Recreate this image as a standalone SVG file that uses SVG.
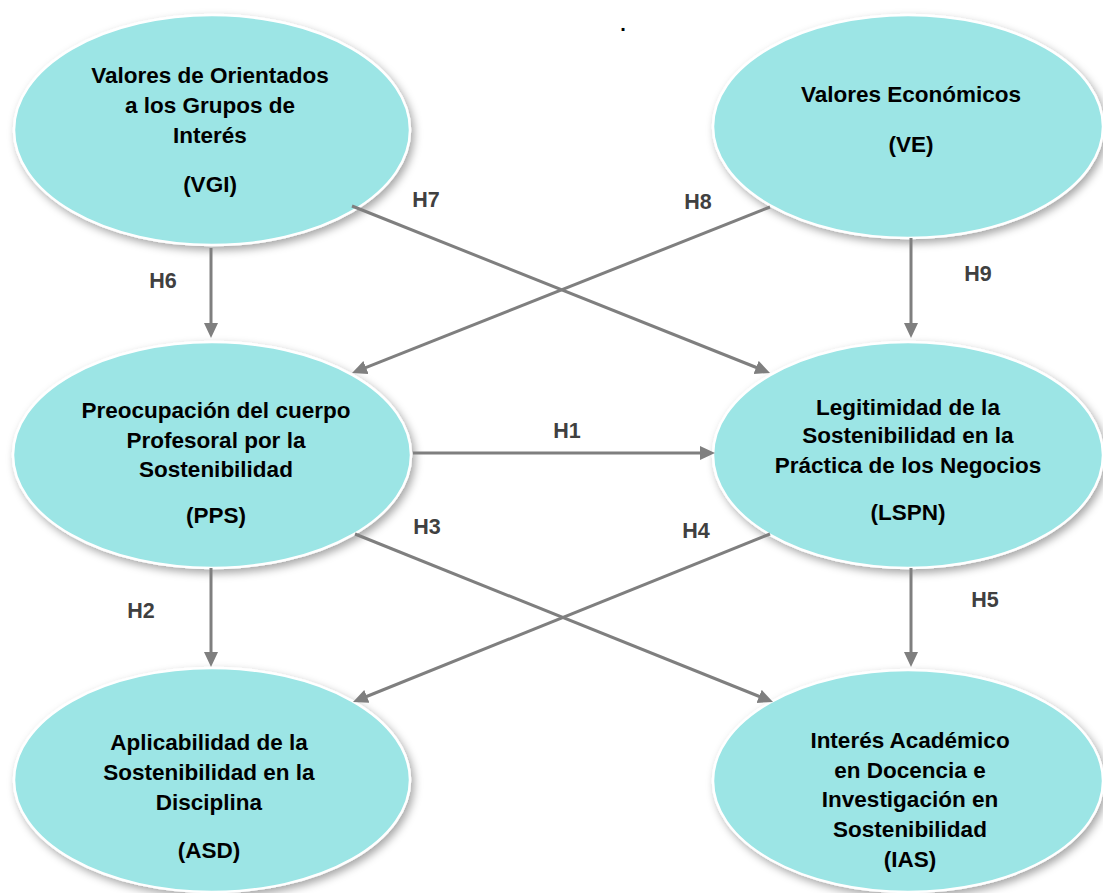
<svg xmlns="http://www.w3.org/2000/svg" width="1103" height="893" viewBox="0 0 1103 893">
  <style>
    .node ellipse { fill: #9ce5e5; stroke: #ffffff; stroke-width: 2.5; filter: url(#shadow); }
    .node text { font-family: "Liberation Sans", Arial, sans-serif; font-weight: bold; font-size: 22.5px; fill: #000000; text-anchor: middle; }
    .conn line { stroke: #7f7f7f; stroke-width: 3; marker-end: url(#arrow); }
    .lbl { font-family: "Liberation Sans", Arial, sans-serif; font-weight: bold; font-size: 21.5px; fill: #404040; text-anchor: middle; }
  </style>
  <defs>
    <filter id="shadow" x="-10%" y="-10%" width="125%" height="130%">
      <feDropShadow dx="3" dy="4" stdDeviation="4" flood-color="#000000" flood-opacity="0.35"/>
    </filter>
    <marker id="arrow" markerUnits="userSpaceOnUse" markerWidth="16" markerHeight="15" refX="3" refY="7" orient="auto" viewBox="0 0 16 15">
      <path d="M0,0 L15,7 L0,14 z" fill="#7f7f7f"/>
    </marker>
  </defs>
  <rect x="0" y="0" width="1103" height="893" fill="#ffffff"/>

  <text x="623" y="31" class="lbl" style="fill:#000000;font-size:20px">.</text>

  <g id="VGI" class="node">
    <ellipse cx="212" cy="130" rx="198" ry="115"/>
    <text x="210" y="83">Valores de Orientados</text>
    <text x="210" y="113">a los Grupos de</text>
    <text x="210" y="143">Interés</text>
    <text x="210" y="192">(VGI)</text>
  </g>
  <g id="VE" class="node">
    <ellipse cx="908" cy="126.5" rx="195" ry="111.5"/>
    <text x="911" y="102">Valores Económicos</text>
    <text x="911" y="152">(VE)</text>
  </g>
  <g id="PPS" class="node">
    <ellipse cx="212" cy="455" rx="199" ry="113"/>
    <text x="216" y="418">Preocupación del cuerpo</text>
    <text x="216" y="448">Profesoral por la</text>
    <text x="216" y="477">Sostenibilidad</text>
    <text x="216" y="523">(PPS)</text>
  </g>
  <g id="LSPN" class="node">
    <ellipse cx="908" cy="455" rx="195" ry="113"/>
    <text x="908" y="415">Legitimidad de la</text>
    <text x="908" y="443">Sostenibilidad en la</text>
    <text x="908" y="473">Práctica de los Negocios</text>
    <text x="908" y="520">(LSPN)</text>
  </g>
  <g id="ASD" class="node">
    <ellipse cx="212" cy="780" rx="198" ry="112"/>
    <text x="209" y="750">Aplicabilidad de la</text>
    <text x="209" y="780">Sostenibilidad en la</text>
    <text x="209" y="810">Disciplina</text>
    <text x="209" y="858">(ASD)</text>
  </g>
  <g id="IAS" class="node">
    <ellipse cx="908" cy="781" rx="195" ry="111"/>
    <text x="910" y="748">Interés Académico</text>
    <text x="910" y="778">en Docencia e</text>
    <text x="910" y="807">Investigación en</text>
    <text x="910" y="837">Sostenibilidad</text>
    <text x="910" y="867">(IAS)</text>
  </g>

  <g id="connectors" class="conn">
    <line x1="211" y1="248" x2="211" y2="326"/>
    <line x1="770" y1="207" x2="363.2" y2="368.6"/>
    <line x1="352" y1="206" x2="758.9" y2="368.5"/>
    <line x1="911" y1="238" x2="911" y2="326"/>
    <line x1="413" y1="453" x2="703" y2="453"/>
    <line x1="211" y1="568" x2="211" y2="655"/>
    <line x1="355" y1="534" x2="761.9" y2="697.5"/>
    <line x1="770" y1="534" x2="364.1" y2="697.5"/>
    <line x1="911" y1="568" x2="911" y2="655"/>
  </g>

  <g id="labels">
    <text class="lbl" x="567" y="438">H1</text>
    <text class="lbl" x="141" y="618">H2</text>
    <text class="lbl" x="427" y="534">H3</text>
    <text class="lbl" x="696" y="538">H4</text>
    <text class="lbl" x="985" y="607">H5</text>
    <text class="lbl" x="163" y="288">H6</text>
    <text class="lbl" x="426" y="207">H7</text>
    <text class="lbl" x="698" y="209">H8</text>
    <text class="lbl" x="978" y="281">H9</text>
  </g>
</svg>
